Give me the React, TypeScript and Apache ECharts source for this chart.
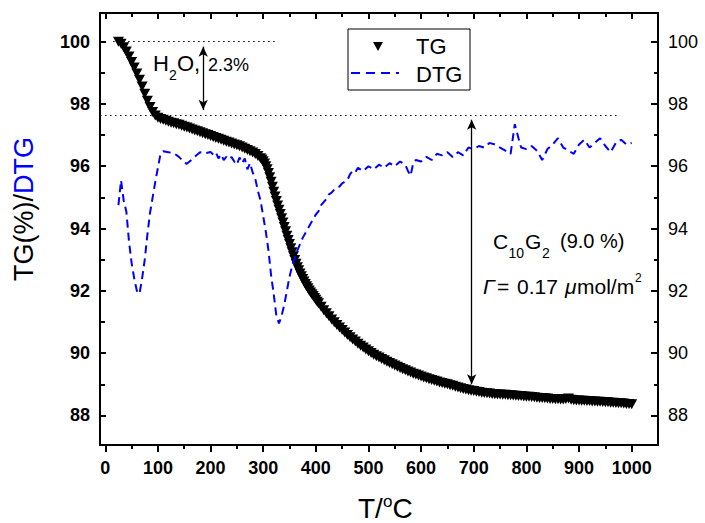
import React, { useEffect, useRef } from 'react';
import * as echarts from 'echarts';

// TG curve: [temperature °C, mass %]
const tgCurve: number[][] = [
  [25, 100.0], [30, 99.93], [35, 99.82], [40, 99.68], [45, 99.52], [50, 99.35], [55, 99.17], [60, 98.98], [65, 98.78], [70, 98.56],
  [75, 98.33], [80, 98.1], [85, 97.9], [90, 97.74], [95, 97.63], [100, 97.56], [105, 97.52], [110, 97.49], [115, 97.46], [120, 97.43],
  [125, 97.4], [130, 97.38], [135, 97.35], [140, 97.33], [145, 97.3], [150, 97.27], [155, 97.24], [160, 97.21], [165, 97.18], [170, 97.15],
  [175, 97.12], [180, 97.09], [185, 97.06], [190, 97.03], [195, 97.0], [200, 96.97], [205, 96.94], [210, 96.91], [215, 96.88], [220, 96.85],
  [225, 96.82], [230, 96.79], [235, 96.76], [240, 96.73], [245, 96.7], [250, 96.67], [255, 96.64], [260, 96.6], [265, 96.56], [270, 96.52],
  [275, 96.48], [280, 96.44], [285, 96.39], [290, 96.33], [295, 96.26], [297.5, 96.22], [300, 96.16], [302.5, 96.09], [305, 96.0], [307.5, 95.9],
  [310, 95.78], [312.5, 95.65], [315, 95.5], [317.5, 95.34], [320, 95.18], [322.5, 95.03], [325, 94.88], [327.5, 94.74], [330, 94.6], [332.5, 94.47],
  [335, 94.33], [337.5, 94.19], [340, 94.05], [342.5, 93.91], [345, 93.77], [347.5, 93.63], [350, 93.5], [352.5, 93.37], [355, 93.24], [357.5, 93.11],
  [360, 92.99], [362.5, 92.87], [365, 92.76], [367.5, 92.66], [370, 92.56], [372.5, 92.47], [375, 92.38], [377.5, 92.3], [380, 92.22], [382.5, 92.15],
  [385, 92.08], [387.5, 92.01], [390, 91.95], [392.5, 91.89], [395, 91.83], [397.5, 91.77], [400, 91.71], [402.5, 91.65], [405, 91.6], [410, 91.49],
  [415, 91.38], [420, 91.28], [425, 91.18], [430, 91.08], [435, 90.99], [440, 90.9], [445, 90.82], [450, 90.74], [455, 90.66], [460, 90.58],
  [465, 90.51], [470, 90.44], [475, 90.37], [480, 90.3], [485, 90.24], [490, 90.18], [495, 90.12], [500, 90.06], [505, 90.0], [510, 89.95],
  [515, 89.9], [520, 89.86], [525, 89.81], [530, 89.77], [535, 89.72], [540, 89.68], [545, 89.64], [550, 89.6], [555, 89.56], [560, 89.52],
  [565, 89.48], [570, 89.45], [575, 89.41], [580, 89.38], [585, 89.34], [590, 89.31], [595, 89.28], [600, 89.25], [605, 89.22], [610, 89.19],
  [615, 89.16], [620, 89.14], [625, 89.11], [630, 89.09], [635, 89.06], [640, 89.04], [645, 89.02], [650, 89.0], [655, 88.97], [660, 88.95],
  [665, 88.92], [670, 88.9], [675, 88.87], [680, 88.85], [685, 88.83], [690, 88.81], [695, 88.79], [700, 88.78], [705, 88.76], [710, 88.75],
  [715, 88.73], [720, 88.72], [725, 88.71], [730, 88.7], [735, 88.69], [740, 88.68], [745, 88.67], [750, 88.67], [755, 88.66], [760, 88.66],
  [765, 88.65], [770, 88.65], [775, 88.64], [780, 88.63], [785, 88.62], [790, 88.62], [795, 88.61], [800, 88.6], [805, 88.6], [810, 88.59],
  [815, 88.58], [820, 88.57], [825, 88.56], [830, 88.56], [835, 88.55], [840, 88.54], [845, 88.53], [850, 88.53], [855, 88.52], [860, 88.52],
  [865, 88.51], [870, 88.51], [875, 88.53], [880, 88.54], [885, 88.5], [890, 88.49], [895, 88.48], [900, 88.48], [905, 88.47], [910, 88.47],
  [915, 88.46], [920, 88.46], [925, 88.45], [930, 88.45], [935, 88.44], [940, 88.44], [945, 88.43], [950, 88.42], [955, 88.42], [960, 88.41],
  [965, 88.41], [970, 88.4], [975, 88.39], [980, 88.39], [985, 88.38], [990, 88.37], [995, 88.37], [1000, 88.36],
];

// DTG curve (scaled onto the same axis)
const dtgCurve: number[][] = [
  [25, 94.75], [30, 95.55], [35, 94.9], [40, 94.55], [45, 93.6], [50, 92.9], [55, 92.4], [60, 92.0], [65, 91.9], [70, 92.4],
  [75, 93.0], [80, 93.8], [85, 94.5], [90, 95.0], [95, 95.5], [100, 95.95], [105, 96.4], [110, 96.48], [120, 96.45], [130, 96.42],
  [140, 96.3], [150, 96.12], [155, 96.08], [160, 96.15], [170, 96.3], [180, 96.45], [190, 96.42], [200, 96.46], [205, 96.38], [210, 96.45],
  [215, 96.25], [220, 96.38], [225, 96.2], [230, 96.3], [235, 96.22], [240, 96.3], [245, 96.15], [250, 96.05], [255, 96.28], [260, 96.1],
  [265, 96.25], [270, 95.9], [275, 96.1], [280, 95.8], [285, 95.6], [290, 95.2], [295, 94.9], [300, 94.4], [305, 93.9], [310, 93.3],
  [315, 92.5], [320, 91.9], [325, 91.2], [330, 90.95], [335, 91.2], [340, 91.55], [345, 92.0], [350, 92.45], [355, 92.8], [360, 93.05],
  [365, 93.3], [370, 93.5], [375, 93.7], [380, 93.85], [385, 94.0], [390, 94.15], [395, 94.3], [400, 94.45], [405, 94.55], [410, 94.75],
  [415, 94.85], [420, 94.95], [425, 95.1], [430, 95.15], [435, 95.25], [440, 95.3], [445, 95.35], [450, 95.45], [455, 95.5], [460, 95.55],
  [465, 95.75], [470, 95.85], [475, 95.8], [480, 95.95], [490, 95.85], [500, 96.0], [510, 95.9], [520, 96.05], [530, 95.95], [540, 96.1],
  [550, 96.0], [560, 96.15], [570, 96.05], [575, 95.85], [580, 95.7], [585, 96.1], [590, 96.2], [600, 96.15], [610, 96.3], [620, 96.2],
  [630, 96.4], [640, 96.35], [650, 96.45], [660, 96.3], [670, 96.45], [680, 96.35], [690, 96.6], [700, 96.55], [710, 96.65], [720, 96.6],
  [730, 96.75], [740, 96.7], [750, 96.6], [760, 96.5], [770, 96.4], [778, 97.35], [785, 96.9], [790, 96.6], [800, 96.55], [810, 96.65],
  [820, 96.5], [830, 96.2], [840, 96.55], [850, 96.7], [860, 96.9], [870, 96.6], [880, 96.5], [890, 96.4], [900, 96.7], [910, 96.85],
  [920, 96.6], [930, 96.75], [940, 96.9], [950, 96.65], [960, 96.45], [970, 96.75], [980, 96.85], [990, 96.7], [1000, 96.75],
];

const xMajorTicks = [0, 100, 200, 300, 400, 500, 600, 700, 800, 900, 1000];
const xMinorTicks = [50, 150, 250, 350, 450, 550, 650, 750, 850, 950];
const yMajorTicks = [88, 90, 92, 94, 96, 98, 100];
const yMinorTicks = [89, 91, 93, 95, 97, 99];

// annotation levels
const waterLevels = [100, 97.65];
const finalLevel = 88.84;

const FONT = 'Liberation Sans, Arial, sans-serif';
const X_MIN = -10, X_MAX = 1050, Y_MIN = 87.05, Y_MAX = 100.92;

function txt(text: string, x: number, y: number, size: number, extra: any = {}) {
  return {
    type: 'text', x, y, z: 100, silent: true,
    style: {
      text, fill: extra.fill || '#000', fontSize: size, fontFamily: FONT,
      fontStyle: extra.fontStyle || 'normal', fontWeight: extra.fontWeight || 'normal',
      align: extra.align || 'left', verticalAlign: 'middle',
      textAlign: extra.align || 'left', textVerticalAlign: 'middle',
    },
    rotation: extra.rotation || 0,
  };
}

const plainNum = (v: number) => String(v);

function xAxisDef(position: string, ticks: number[], len: number, inside: boolean, showLine: boolean, labels: boolean) {
  return {
    type: 'value', position, min: X_MIN, max: X_MAX,
    axisLine: { show: showLine, onZero: false, lineStyle: { color: '#000', width: 2 } },
    axisTick: { show: true, inside, length: len, customValues: ticks, lineStyle: { color: '#000', width: 2 } },
    axisLabel: labels
      ? { show: true, customValues: ticks, formatter: plainNum, color: '#000', fontSize: 18, fontWeight: 'bold', fontFamily: FONT, margin: 14 }
      : { show: false },
    splitLine: { show: false },
  };
}

function yAxisDef(position: string, ticks: number[], len: number, showLine: boolean, labels: boolean, bold: boolean) {
  return {
    type: 'value', position, min: Y_MIN, max: Y_MAX,
    axisLine: { show: showLine, onZero: false, lineStyle: { color: '#000', width: 2 } },
    axisTick: { show: true, inside: true, length: len, customValues: ticks, lineStyle: { color: '#000', width: 2 } },
    axisLabel: labels
      ? { show: true, customValues: ticks, formatter: plainNum, color: '#000', fontSize: 18, fontWeight: bold ? 'bold' : 'normal', fontFamily: FONT, margin: 10 }
      : { show: false },
    splitLine: { show: false },
  };
}

export default function App() {
  const ref = useRef<HTMLDivElement>(null);
  useEffect(() => {
    const chart = echarts.init(ref.current!, null, { renderer: 'svg' });
    const arrowOvershoot = 0.16;
    const option: any = {
      animation: false,
      backgroundColor: '#fff',
      grid: { left: 100, right: 47, top: 13, bottom: 78, containLabel: false },
      xAxis: [
        xAxisDef('bottom', xMajorTicks, 7, false, true, true),
        xAxisDef('bottom', xMinorTicks, 4, false, false, false),
        xAxisDef('top', xMajorTicks, 6, true, true, false),
        xAxisDef('top', xMinorTicks, 4, true, false, false),
      ],
      yAxis: [
        yAxisDef('left', yMajorTicks, 6, true, true, true),
        yAxisDef('left', yMinorTicks, 5, false, false, false),
        yAxisDef('right', yMajorTicks, 7, true, true, false),
        yAxisDef('right', yMinorTicks, 4, false, false, false),
      ],
      series: [
        {
          name: 'TG', type: 'scatter', xAxisIndex: 0, yAxisIndex: 0, z: 2,
          symbol: 'triangle', symbolRotate: 180, symbolSize: [11, 10],
          itemStyle: { color: '#000', opacity: 1 },
          data: tgCurve,
          markLine: {
            silent: true, symbol: ['none', 'none'], label: { show: false },
            lineStyle: { color: '#000', type: [1.5, 3.5], width: 1.2 },
            emphasis: { disabled: true },
            data: [
              [{ coord: [15, waterLevels[0]] }, { coord: [322, waterLevels[0]] }],
              [{ coord: [X_MIN, waterLevels[1]] }, { coord: [973, waterLevels[1]] }],
            ],
          },
        },
        {
          name: 'DTG', type: 'line', xAxisIndex: 0, yAxisIndex: 0, z: 3,
          symbol: 'none', showSymbol: false,
          lineStyle: { color: '#0000ff', width: 2, type: [8, 5] },
          data: dtgCurve,
          markLine: {
            silent: true, symbol: ['arrow', 'arrow'], symbolSize: [7, 10], label: { show: false },
            lineStyle: { color: '#000', type: 'solid', width: 1.3 },
            emphasis: { disabled: true },
            data: [
              [{ coord: [186, waterLevels[0] - arrowOvershoot] }, { coord: [186, waterLevels[1] + arrowOvershoot] }],
              [{ coord: [696, waterLevels[1] - arrowOvershoot] }, { coord: [696, finalLevel + arrowOvershoot] }],
            ],
          },
        },
      ],
      graphic: [
        // legend
        { type: 'rect', z: 90, silent: true, shape: { x: 348, y: 29, width: 122, height: 61 }, style: { fill: '#fff', stroke: '#000', lineWidth: 1 } },
        { type: 'polygon', z: 100, silent: true, shape: { points: [[373, 42], [383, 42], [378, 51]] }, style: { fill: '#000' } },
        { type: 'line', z: 100, silent: true, shape: { x1: 351, y1: 73, x2: 399, y2: 73 }, style: { stroke: '#0000ff', lineWidth: 2, lineDash: [9, 6] } },
        txt('TG', 416, 46.3, 22),
        txt('DTG', 416, 74, 22),
        // H2O annotation
        txt('H', 153, 63.3, 22),
        txt('2', 169, 75, 14),
        txt('O,', 177, 63.3, 22),
        txt('2.3%', 208, 64.7, 18),
        // C10G2 annotation
        txt('C', 493, 241, 21),
        txt('10', 508.5, 252.5, 14),
        txt('G', 525, 241, 21),
        txt('2', 542, 252.5, 14),
        txt('(9.0 %)', 560, 241.3, 20),
        txt('Γ', 483, 286, 21, { fontStyle: 'italic' }),
        txt('=', 497, 286, 21),
        txt('0.17', 517, 286, 21),
        txt('μ', 565, 286, 21, { fontStyle: 'italic' }),
        txt('mol/m', 577, 286, 21),
        txt('2', 635, 278, 12),
        // axis titles
        txt('T/', 358, 508.2, 28),
        txt('o', 383, 501, 17),
        txt('C', 392.5, 508.2, 28),
        txt('TG(%)/', 24, 237.5, 27, { rotation: Math.PI / 2, align: 'center' }),
        txt('DTG', 24, 165.5, 27, { rotation: Math.PI / 2, align: 'center', fill: '#0000ff' }),
      ],
    };
    chart.setOption(option);
    return () => chart.dispose();
  }, []);
  return <div ref={ref} style={{ position: 'fixed', left: 0, top: 0, width: 705, height: 523 }} />;
}
